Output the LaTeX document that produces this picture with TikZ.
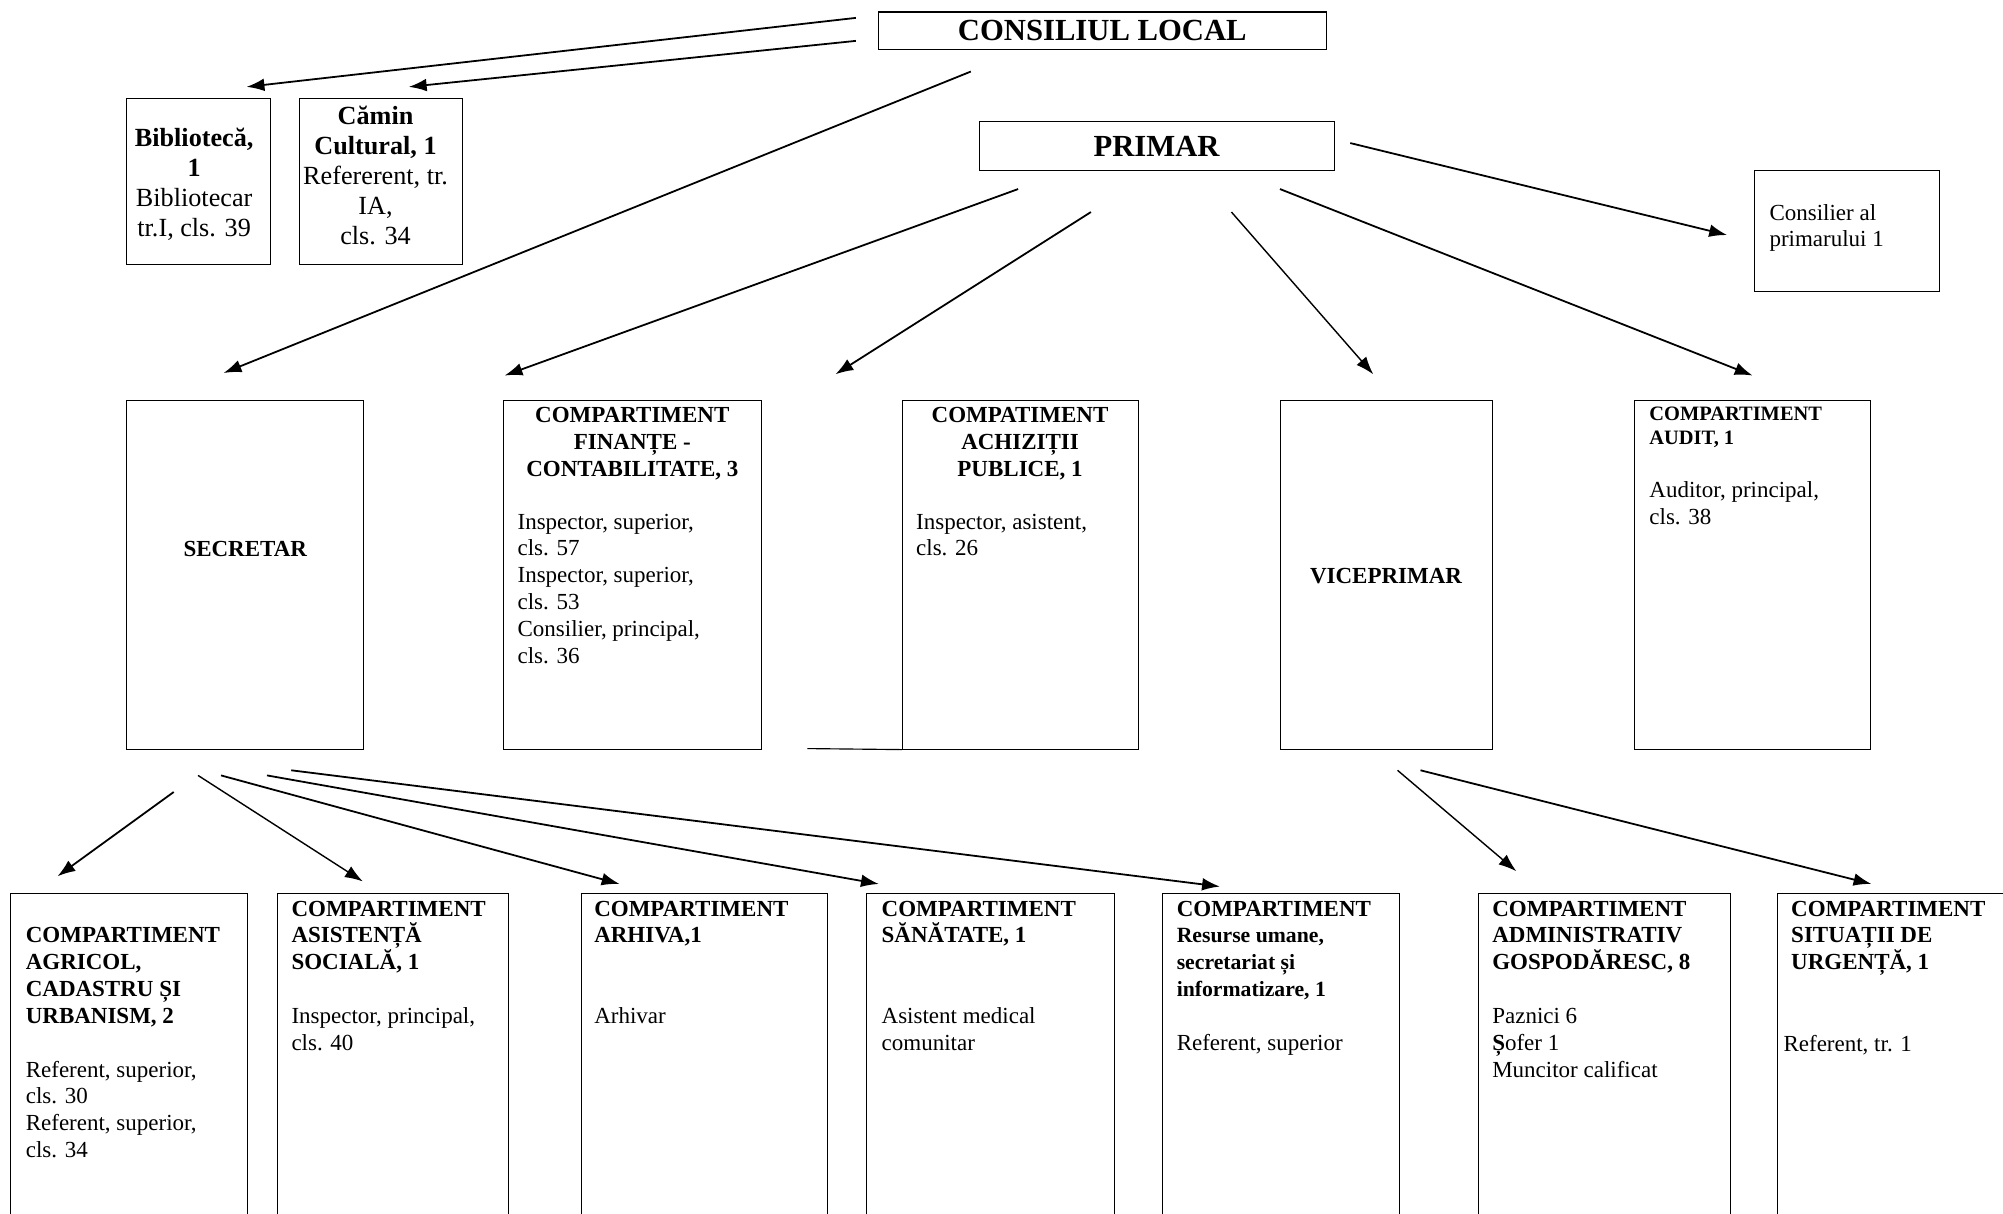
\documentclass[tikz,border=0pt]{standalone}
\usepackage{fontspec}
\setmainfont{Liberation Serif}
\usetikzlibrary{arrows.meta}
\begin{document}
\begin{tikzpicture}[x=1pt,y=-1pt,
  box/.style={draw, line width=0.8pt, anchor=north west, inner sep=0pt},
  txt/.style={inner sep=0pt, align=left, anchor=north west, font=\fontsize{18}{21}\selectfont},
  ctxt/.style={inner sep=0pt, align=center, anchor=north, font=\fontsize{18}{21}\selectfont\bfseries},
  big/.style={inner sep=0pt, font=\fontsize{24}{28}\selectfont\bfseries},
  arr/.style={-{Latex[length=14pt,width=10pt]}, line width=1.4pt},
  arrthin/.style={-{Latex[length=14pt,width=10pt]}, line width=1.1pt},
]
\useasboundingbox (0,0) rectangle (1568,950);

% ---------- top level ----------
\node[box, minimum width=351pt, minimum height=29pt] (cl) at (687,9) {};
\node[big] (clT) at (cl.center) {CONSILIUL LOCAL};

\node[box, minimum width=278pt, minimum height=38pt] (pri) at (766,95) {};
\node[big] (priT) at (pri.center) {PRIMAR};

\node[box, minimum width=112pt, minimum height=130pt] (bib) at (99,77) {};
\node[inner sep=0pt, align=center, anchor=north, font=\fontsize{20.5}{23.5}\selectfont] (bibT) at (152,100)
  {\textbf{Bibliotecă,}\\\textbf{1}\\Bibliotecar\\tr.I, cls. 39};

\node[box, minimum width=128pt, minimum height=130pt] (cam) at (234,77) {};
\node[inner sep=0pt, align=center, anchor=north, font=\fontsize{20.5}{23.5}\selectfont] (camT) at (294,83)
  {\textbf{Cămin}\\\textbf{Cultural, 1}\\Refererent, tr.\\IA,\\cls. 34};

\node[box, minimum width=145pt, minimum height=95pt] (cons) at (1373,133) {};
\node[txt, font=\fontsize{18}{20}\selectfont] (consT) at (1385,160) {Consilier al\\primarului 1};

% ---------- middle row ----------
\node[box, minimum width=185pt, minimum height=273pt] (sec) at (99,313) {};
\node[inner sep=0pt, font=\fontsize{18}{21}\selectfont\bfseries] (secT) at (192,430) {SECRETAR};

\node[box, minimum width=202pt, minimum height=273pt] (fin) at (394,313) {};
\node[ctxt] (finH) at (495,319) {COMPARTIMENT\\FINANȚE -\\CONTABILITATE, 3};
\node[txt] (finB) at (405,402) {Inspector, superior,\\cls. 57\\Inspector, superior,\\cls. 53\\Consilier, principal,\\cls. 36};

\node[box, minimum width=185pt, minimum height=273pt] (ach) at (706,313) {};
\node[ctxt] (achH) at (798.5,319) {COMPATIMENT\\ACHIZIȚII\\PUBLICE, 1};
\node[txt] (achB) at (717,402) {Inspector, asistent,\\cls. 26};
\coordinate (stray) at (632,586);

\node[box, minimum width=166pt, minimum height=273pt] (vice) at (1002,313) {};
\node[inner sep=0pt, font=\fontsize{18}{21}\selectfont\bfseries] (viceT) at (1085,451) {VICEPRIMAR};

\node[box, minimum width=185pt, minimum height=273pt] (aud) at (1279,313) {};
\node[txt, font=\fontsize{16}{19}\selectfont\bfseries] (audH) at (1291,318) {COMPARTIMENT\\AUDIT, 1};
\node[txt] (audB) at (1291,377) {Auditor, principal,\\cls. 38};

% ---------- bottom row ----------
\node[box, minimum width=185pt, minimum height=270pt] (agr) at (8,699) {};
\node[txt] (agrT) at (20,726) {\textbf{COMPARTIMENT}\\\textbf{AGRICOL,}\\\textbf{CADASTRU ȘI}\\\textbf{URBANISM, 2}\\[21pt]Referent, superior,\\cls. 30\\Referent, superior,\\cls. 34};

\node[box, minimum width=181pt, minimum height=270pt] (asi) at (217,699) {};
\node[txt] (asiT) at (228,705) {\textbf{COMPARTIMENT}\\\textbf{ASISTENȚĂ}\\\textbf{SOCIALĂ, 1}\\[21pt]Inspector, principal,\\cls. 40};

\node[box, minimum width=192pt, minimum height=270pt] (arh) at (455,699) {};
\node[txt] (arhT) at (465,705) {\textbf{COMPARTIMENT}\\\textbf{ARHIVA,1}\\[42pt]Arhivar};

\node[box, minimum width=194pt, minimum height=270pt] (san) at (678,699) {};
\node[txt] (sanT) at (690,705) {\textbf{COMPARTIMENT}\\\textbf{SĂNĂTATE, 1}\\[42pt]Asistent medical\\comunitar};

\node[box, minimum width=185pt, minimum height=270pt] (res) at (910,699) {};
\node[txt] (resT) at (921,705) {\textbf{COMPARTIMENT}\\{\fontsize{17}{21}\selectfont\bfseries Resurse umane,}\\{\fontsize{17}{21}\selectfont\bfseries secretariat și}\\{\fontsize{17}{21}\selectfont\bfseries informatizare, 1}\\[21pt]Referent, superior};

\node[box, minimum width=197pt, minimum height=270pt] (adm) at (1157,699) {};
\node[txt] (admT) at (1168,705) {\textbf{COMPARTIMENT}\\\textbf{ADMINISTRATIV}\\\textbf{GOSPODĂRESC, 8}\\[21pt]Paznici 6\\\textbf{Ș}ofer 1\\Muncitor calificat};

\node[box, minimum width=200pt, minimum height=270pt] (sit) at (1391,699) {};
\node[txt, font=\fontsize{18}{21}\selectfont\bfseries] (sitH) at (1402,705) {COMPARTIMENT\\SITUAȚII DE\\URGENȚĂ, 1};
\node[txt] (sitB) at (1396,810) {Referent, tr. 1};

% ---------- connector end points ----------
\coordinate (a1s) at (670,14);   \coordinate (a1e) at (193,68);
\coordinate (a2s) at (670,32);   \coordinate (a2e) at (320,68);
\coordinate (a3s) at (760,56);   \coordinate (a3e) at (175,292);
\coordinate (a4s) at (797,148);  \coordinate (a4e) at (395,294);
\coordinate (a5s) at (854,166);  \coordinate (a5e) at (654,293);
\coordinate (a6s) at (964,166);  \coordinate (a6e) at (1075,293);
\coordinate (a7s) at (1002,148); \coordinate (a7e) at (1372,294);
\coordinate (a8s) at (1057,112); \coordinate (a8e) at (1352,184);
\coordinate (b1s) at (136,620);  \coordinate (b1e) at (45,686);
\coordinate (b2s) at (155,607);  \coordinate (b2e) at (284,690);
\coordinate (b3s) at (173,607);  \coordinate (b3e) at (485,692);
\coordinate (b4s) at (209,607);  \coordinate (b4e) at (688,692);
\coordinate (b5s) at (228,603);  \coordinate (b5e) at (955,694);
\coordinate (c1s) at (1094,603); \coordinate (c1e) at (1187,682);
\coordinate (c2s) at (1112,603); \coordinate (c2e) at (1465,692);

\draw[arr] (a1s) -- (a1e);
\draw[arr] (a2s) -- (a2e);
\draw[arr] (a3s) -- (a3e);
\draw[arr] (a4s) -- (a4e);
\draw[arr] (a5s) -- (a5e);
\draw[arrthin] (a6s) -- (a6e);
\draw[arr] (a7s) -- (a7e);
\draw[arr] (a8s) -- (a8e);
\draw[arr] (b1s) -- (b1e);
\draw[arrthin] (b2s) -- (b2e);
\draw[arr] (b3s) -- (b3e);
\draw[arr] (b4s) -- (b4e);
\draw[arr] (b5s) -- (b5e);
\draw[arrthin] (c1s) -- (c1e);
\draw[arr] (c2s) -- (c2e);

\draw[line width=0.9pt] (stray) -- (ach.south west);
\end{tikzpicture}
\end{document}
